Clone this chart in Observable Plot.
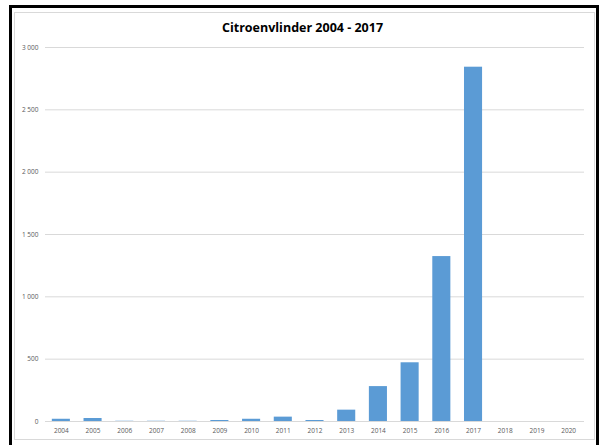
<!DOCTYPE html>
<html><head><meta charset="utf-8">
<script src="https://cdn.jsdelivr.net/npm/d3@7"></script>
<script src="https://cdn.jsdelivr.net/npm/@observablehq/plot@0.6"></script>
<style>
body{margin:0;background:#fff;}
#wrap{position:relative;width:605px;height:445px;overflow:hidden;font-family:"Open Sans",sans-serif;}
#frame{position:absolute;left:9px;top:5px;width:584px;height:460px;border:3.5px solid #000;}
#inner{position:absolute;left:14px;top:12px;width:579px;height:426px;border:1px solid #d9d9d9;}
#title{position:absolute;left:0;width:605px;top:19px;text-align:center;font-weight:bold;font-size:12.5px;color:#000;}
#chart{position:absolute;left:0;top:0;}
</style></head>
<body><div id="wrap"><div id="frame"></div><div id="inner"></div><div id="chart"></div><div id="title">Citroenvlinder 2004 - 2017</div></div>
<script>
const years = ["2004","2005","2006","2007","2008","2009","2010","2011","2012","2013","2014","2015","2016","2017","2018","2019","2020"];
const counts = [18, 24, 2, 2, 2, 8, 18, 35, 8, 91, 280, 471, 1323, 2842, 0, 0, 0];
const yTicks = [0, 500, 1000, 1500, 2000, 2500, 3000];
const data = years.map((y, i) => ({year: y, count: counts[i]}));
const fmt = v => d3.format(",")(v).replace(/,/g, " ");
const chart = Plot.plot({
  width: 605, height: 445,
  marginLeft: 45, marginRight: 21, marginTop: 47, marginBottom: 24,
  style: {fontFamily: "Open Sans, sans-serif", fontSize: "6.5px", color: "#595959", background: "transparent"},
  x: {domain: years, paddingInner: 0.43, paddingOuter: 0.215, round: false, label: null, tickSize: 0, tickPadding: 7},
  y: {domain: [0, 3000], ticks: yTicks, label: null, tickSize: 0, tickPadding: 7, tickFormat: fmt},
  marks: [
    Plot.gridY(yTicks.filter(d => d > 0), {stroke: "#d9d9d9", strokeOpacity: 1, strokeWidth: 1}),
    Plot.barY(data, {x: "year", y: "count", fill: "#5b9bd5"}),
    Plot.ruleY([0], {stroke: "#d9d9d9", strokeWidth: 1}),
    Plot.axisX({tickSize: 0, tickPadding: 7, fill: "#595959"}),
    Plot.axisY({ticks: yTicks, tickSize: 0, tickPadding: 7, tickFormat: fmt, fill: "#595959"})
  ]
});
document.getElementById("chart").appendChild(chart);
</script></body></html>
